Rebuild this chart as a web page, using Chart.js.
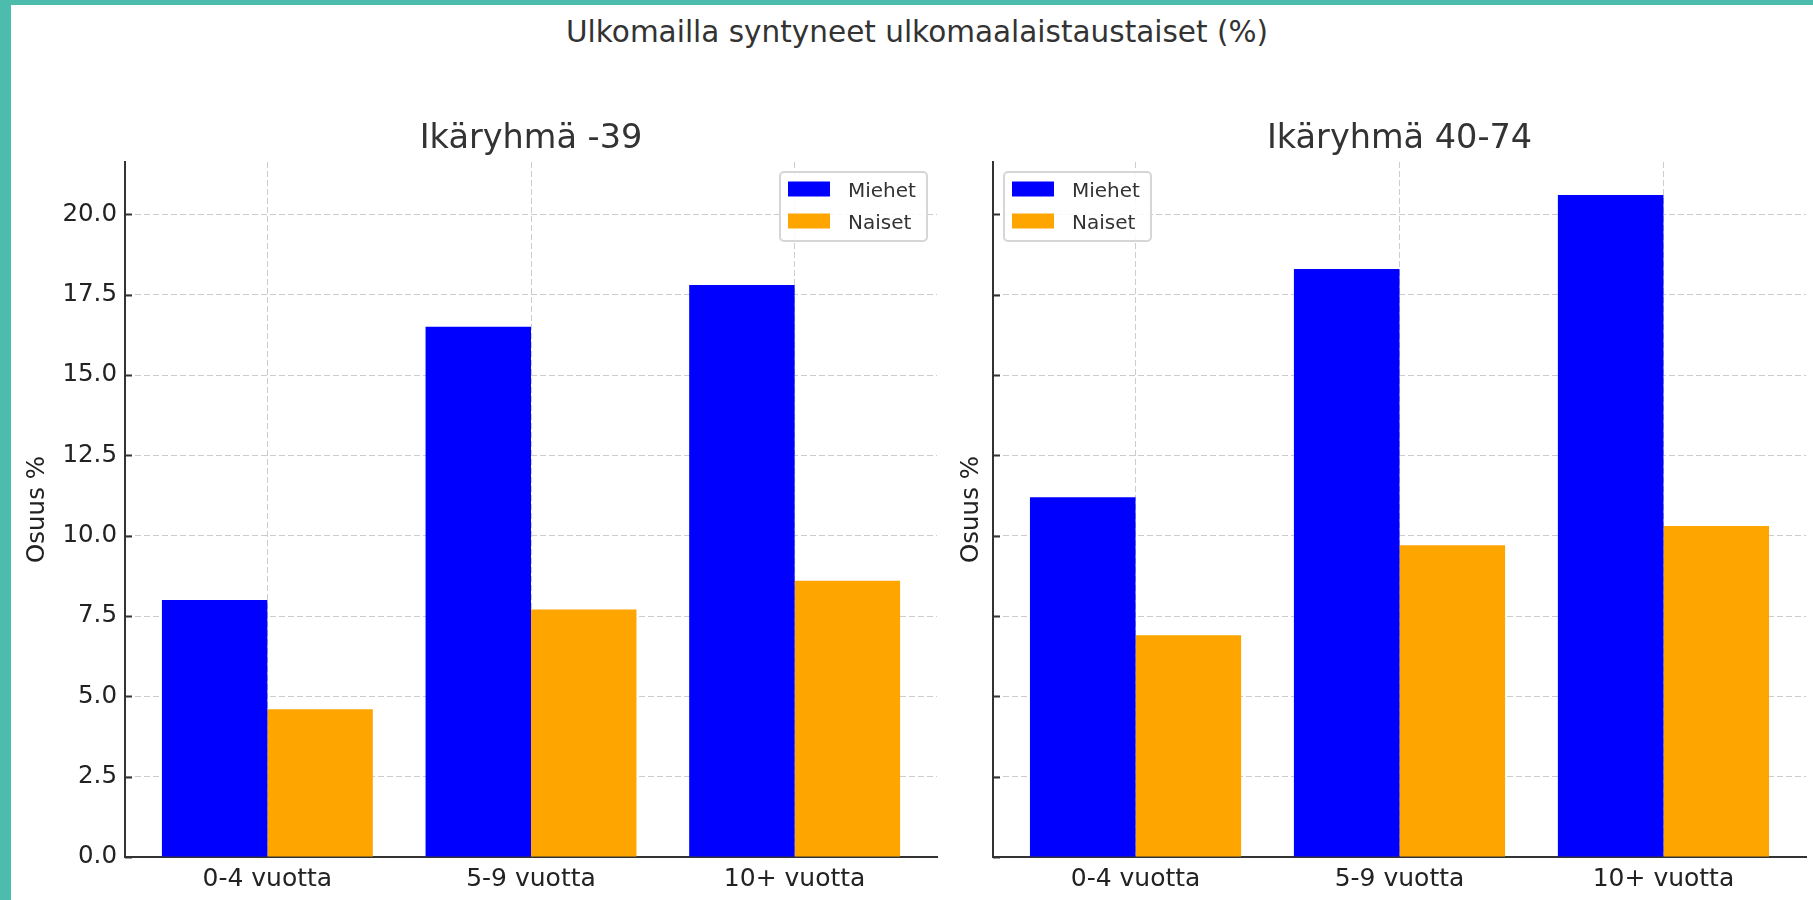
<!DOCTYPE html>
<html>
<head>
<meta charset="utf-8">
<script src="https://cdn.jsdelivr.net/npm/chart.js@4.4.0/dist/chart.umd.min.js"></script>
<style>
  html, body { margin: 0; padding: 0; background: #fff; }
  #page { position: relative; width: 1813px; height: 900px; overflow: hidden; background: #fff; font-family: "DejaVu Sans", sans-serif; }
  .edge { position: absolute; background: #4cbdac; z-index: 5; }
  #suptitle { position: absolute; left: 917px; top: 14px; transform: translateX(-50%); white-space: nowrap; font-size: 29.5px; line-height: 36px; color: #333; }
  canvas { position: absolute; top: 0; }
</style>
</head>
<body>
<div id="page">
  <div class="edge" style="left:0;top:0;width:11px;height:900px"></div>
  <div class="edge" style="left:0;top:0;width:1813px;height:5px"></div>
  <div id="suptitle">Ulkomailla syntyneet ulkomaalaistaustaiset (%)</div>
  <canvas id="chartYoung" width="950" height="900" style="left:0"></canvas>
  <canvas id="chartOld" width="863" height="900" style="left:950px"></canvas>
</div>
<script>
// data
const categories = ["0-4 vuotta", "5-9 vuotta", "10+ vuotta"];
const seriesNames = ["Miehet", "Naiset"];
const seriesColors = ["#0000ff", "#ffa500"];
const youngMen = [8.0, 16.5, 17.8];
const youngWomen = [4.6, 7.7, 8.6];
const oldMen = [11.2, 18.3, 20.6];
const oldWomen = [6.9, 9.7, 10.3];
const yTicks = [0, 2.5, 5, 7.5, 10, 12.5, 15, 17.5, 20];
const yMax = 21.63;

const FONT = '"DejaVu Sans", sans-serif';
const GRID = '#cccccc';
const AXIS = '#333333';

// matplotlib style: small tick marks pointing into the plot
const inwardTicks = {
  id: 'inwardTicks',
  afterDraw(chart) {
    const { ctx, chartArea, scales } = chart;
    ctx.save();
    ctx.strokeStyle = AXIS;
    ctx.lineWidth = 2;
    scales.y.ticks.forEach(t => {
      const py = Math.round(scales.y.getPixelForValue(t.value)) + 0.5;
      ctx.beginPath();
      ctx.moveTo(chartArea.left, py);
      ctx.lineTo(chartArea.left + 7, py);
      ctx.stroke();
    });
    ctx.restore();
  }
};

// legend box inside the plot area
const boxLegend = {
  id: 'boxLegend',
  afterDraw(chart, args, opts) {
    const { ctx, chartArea } = chart;
    const w = 147, h = 69;
    const x = opts.side === 'right' ? chartArea.right - 10 - w : chartArea.left + 11;
    const y = chartArea.top + 10;
    ctx.save();
    ctx.fillStyle = 'rgba(255,255,255,0.85)';
    ctx.strokeStyle = '#d6d6d6';
    ctx.lineWidth = 2;
    ctx.beginPath();
    ctx.roundRect(x, y, w, h, 4);
    ctx.fill();
    ctx.stroke();
    ctx.font = '20px ' + FONT;
    ctx.textBaseline = 'middle';
    chart.data.datasets.forEach((ds, i) => {
      const cy = y + 17 + i * 32;
      ctx.fillStyle = ds.backgroundColor;
      ctx.fillRect(x + 8, cy - 7.5, 42, 15);
      ctx.fillStyle = '#333';
      ctx.fillText(ds.label, x + 68, cy + 2.5);
    });
    ctx.restore();
  }
};

function makeChart(id, title, men, women, o) {
  return new Chart(document.getElementById(id), {
    type: 'bar',
    data: {
      datasets: [
        { label: seriesNames[0], data: men.map((v, i) => ({ x: i, y: v })), backgroundColor: seriesColors[0] },
        { label: seriesNames[1], data: women.map((v, i) => ({ x: i, y: v })), backgroundColor: seriesColors[1] }
      ]
    },
    options: {
      responsive: false,
      animation: false,
      events: [],
      devicePixelRatio: 1,
      categoryPercentage: 0.8,
      barPercentage: 1.0,
      layout: { padding: { left: 0, top: 0, right: o.padRight, bottom: 0 } },
      plugins: {
        legend: { display: false },
        tooltip: { enabled: false },
        title: {
          display: true, text: title, fullSize: false, color: '#333',
          font: { family: FONT, size: 33.5, weight: 'normal' },
          padding: { top: 119.5, bottom: 2.3 }
        },
        boxLegend: { side: o.legendSide }
      },
      scales: {
        x: {
          type: 'linear', min: -0.54, max: 2.54, bounds: 'data', offset: false, z: 1,
          afterBuildTicks: s => { s.ticks = categories.map((c, i) => ({ value: i })); },
          afterFit: s => { s.height = 43; },
          ticks: {
            padding: 7.5, color: '#222', autoSkip: false, maxRotation: 0,
            font: { family: FONT, size: 25 },
            callback: v => categories[v]
          },
          grid: { color: GRID, lineWidth: 1, drawTicks: false, offset: false },
          border: { display: true, color: AXIS, width: 2, dash: [6, 3] }
        },
        y: {
          min: 0, max: yMax, bounds: 'data', z: 1,
          afterBuildTicks: s => { s.ticks = yTicks.map(v => ({ value: v })); },
          afterFit: s => { s.width = o.axisWidth; },
          ticks: {
            display: o.showLabels, padding: 8, color: '#222',
            font: { family: FONT, size: 24.5 },
            callback: v => v.toFixed(1)
          },
          grid: { color: GRID, lineWidth: 1, drawTicks: false },
          border: { display: true, color: AXIS, width: 2, dash: [6, 3] },
          title: {
            display: true, text: 'Osuus %', color: '#222',
            font: { family: FONT, size: 24.5 },
            padding: { top: o.titlePad, bottom: 0 }
          }
        }
      }
    },
    plugins: [inwardTicks, boxLegend]
  });
}

makeChart('chartYoung', 'Ikäryhmä -39', youngMen, youngWomen,
  { padRight: 13, axisWidth: 125, showLabels: true, titlePad: 22.5, legendSide: 'right' });
makeChart('chartOld', 'Ikäryhmä 40-74', oldMen, oldWomen,
  { padRight: 7, axisWidth: 43, showLabels: false, titlePad: 6.5, legendSide: 'left' });
</script>
</body>
</html>
